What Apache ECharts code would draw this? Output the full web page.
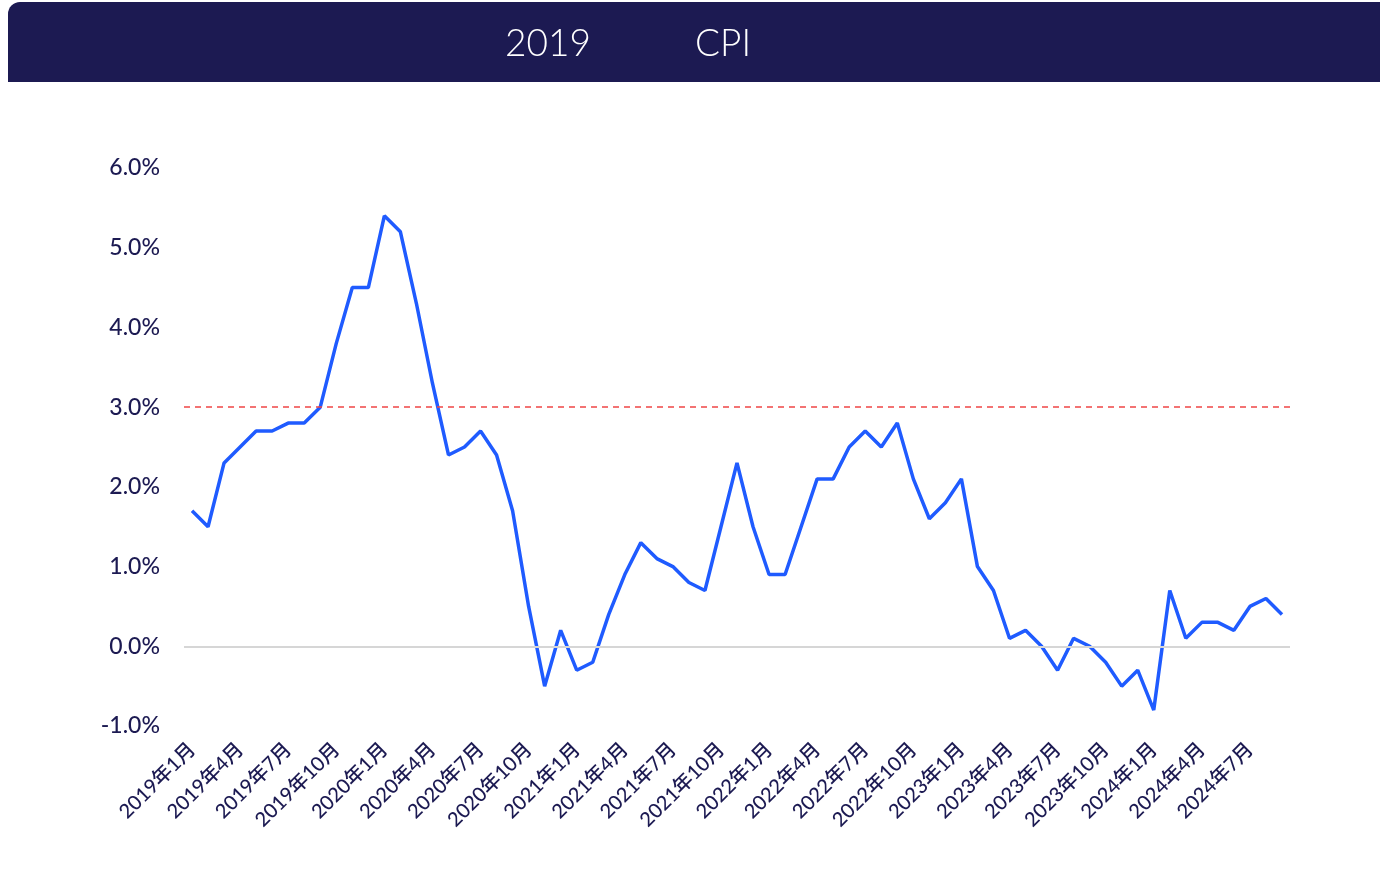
<!DOCTYPE html>
<html>
<head>
<meta charset="utf-8">
<title>CPI</title>
<script src="https://cdn.jsdelivr.net/npm/echarts@6/dist/echarts.min.js"></script>
<style>
  html, body { margin: 0; padding: 0; background: #fff; }
  #chart { width: 1380px; height: 876px; }
</style>
</head>
<body>
<div id="chart"></div>
<script>
// 月份
const months = []
for (let y = 2019; y <= 2024; y++) {
  for (let m = 1; m <= 12; m++) {
    if (y === 2024 && m > 9) break
    months.push(y + '年' + m + '月')
  }
}

// CPI 同比 (%)
const cpi2019 = [1.7, 1.5, 2.3, 2.5, 2.7, 2.7, 2.8, 2.8, 3.0, 3.8, 4.5, 4.5]
const cpi2020 = [5.4, 5.2, 4.3, 3.3, 2.4, 2.5, 2.7, 2.4, 1.7, 0.5, -0.5, 0.2]
const cpi2021 = [-0.3, -0.2, 0.4, 0.9, 1.3, 1.1, 1.0, 0.8, 0.7, 1.5, 2.3, 1.5]
const cpi2022 = [0.9, 0.9, 1.5, 2.1, 2.1, 2.5, 2.7, 2.5, 2.8, 2.1, 1.6, 1.8]
const cpi2023 = [2.1, 1.0, 0.7, 0.1, 0.2, 0.0, -0.3, 0.1, 0.0, -0.2, -0.5, -0.3]
const cpi2024 = [-0.8, 0.7, 0.1, 0.3, 0.3, 0.2, 0.5, 0.6, 0.4]
const cpi = [].concat(cpi2019, cpi2020, cpi2021, cpi2022, cpi2023, cpi2024)

// 警戒线 / 零线
const targetLine = 3.0
const zeroLine = 0

const navy = '#1c1a52'

const chart = echarts.init(document.getElementById('chart'))
chart.setOption({
  backgroundColor: '#fff',
  animation: false,
  graphic: [
    {
      type: 'rect',
      shape: { x: 8, y: 2, width: 1372, height: 80, r: [12, 0, 0, 0] },
      style: { fill: navy },
      z: 0
    },
    {
      type: 'text',
      left: 505,
      top: 26,
      style: { text: '2019', fill: '#fff', font: '300 37px Lato' }
    },
    {
      type: 'text',
      left: 695,
      top: 26,
      style: { text: 'CPI', fill: '#fff', font: '300 37px Lato' }
    }
  ],
  grid: {
    top: 168,
    bottom: 150,
    left: 184,
    right: 90
  },
  xAxis: {
    type: 'category',
    data: months,
    boundaryGap: true,
    axisLine: { show: false },
    axisTick: { show: false },
    axisLabel: {
      interval: 2,
      rotate: 45,
      margin: 20,
      color: navy,
      fontSize: 20,
      fontWeight: 500,
      fontFamily: 'Lato, "Noto Sans CJK SC"'
    }
  },
  yAxis: {
    type: 'value',
    min: -1,
    max: 6,
    interval: 1,
    axisLine: { show: false },
    axisTick: { show: false },
    splitLine: { show: false },
    axisLabel: {
      margin: 24,
      color: navy,
      fontSize: 23,
      fontWeight: 500,
      fontFamily: 'Lato',
      formatter: v => v.toFixed(1) + '%'
    }
  },
  series: [{
    type: 'line',
    data: cpi,
    showSymbol: false,
    symbol: 'none',
    lineStyle: { color: '#1f5bff', width: 3.5 },
    z: 3,
    markLine: {
      silent: true,
      symbol: 'none',
      label: { show: false },
      data: [
        { yAxis: zeroLine, lineStyle: { color: '#d6d6d6', width: 2, type: 'solid' } },
        { yAxis: targetLine, lineStyle: { color: '#f04545', width: 1.5, type: [6, 5] } }
      ]
    }
  }]
})
</script>
</body>
</html>
